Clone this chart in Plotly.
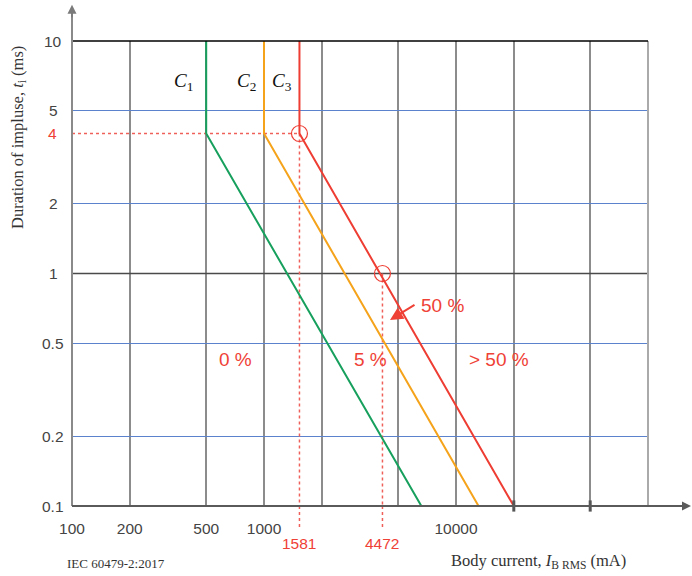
import numpy as np
import plotly.graph_objects as go

# ---------------- data ----------------
durations = [10, 4, 0.1]               # ms, shared by the three curves
c1_currents = [500, 500, 6600]         # mA
c2_currents = [1000, 1000, 13100]
c3_currents = [1530, 1530, 20000]

marker_currents = [1530, 4140]         # red circles
marker_durations = [4, 1]
marker_labels = ["1581", "4472"]

x_tickvals = [100, 200, 500, 1000, 2000, 5000, 10000, 20000, 50000, 100000]
x_ticktext = ["100", "200", "500", "1000", "", "", "10000", "", "", ""]
y_tickvals = [0.1, 0.2, 0.5, 1, 2, 5, 10]
y_ticktext = ["0.1", "0.2", "0.5", "1", "2", "5", "10"]
x_tickmarks = [20000, 50000]

zone_labels = ["0 %", "5 %", "> 50 %"]
zone_x = [711, 3606, 16750]
zone_y = [0.425, 0.425, 0.425]

curve_labels = ["<i>C</i><sub>1</sub>", "<i>C</i><sub>2</sub>", "<i>C</i><sub>3</sub>"]
curve_label_x = [383, 806, 1241]
curve_label_y = [6.66, 6.66, 6.66]

GREEN = "#17a05d"
ORANGE = "#f5a31a"
RED = "#ee3d33"
TXTRED = "#ef4136"
SANS = "Liberation Sans, Arial, sans-serif"
SERIF = "Liberation Serif, Times New Roman, serif"
PLOT_W = 576
PLOT_H = 465

fig = go.Figure()

# dark gridline at 1 ms
fig.add_trace(go.Scatter(x=[x_tickvals[0], x_tickvals[-1]], y=[1, 1], mode="lines",
                         line=dict(color="#4a4a4a", width=1.5), hoverinfo="skip", showlegend=False))

# dashed red guide lines
fig.add_trace(go.Scatter(x=[x_tickvals[0], marker_currents[0]], y=[marker_durations[0]] * 2, mode="lines",
                         line=dict(color="#f0605a", width=1.5, dash="3px,3px"), hoverinfo="skip", showlegend=False))
for mx, my in zip(marker_currents, marker_durations):
    fig.add_trace(go.Scatter(x=[mx, mx], y=[my, y_tickvals[0]], mode="lines",
                             line=dict(color="#f0605a", width=1.5, dash="3px,3px"), hoverinfo="skip", showlegend=False))
    fig.add_shape(type="line", xref="x", yref="paper", x0=mx, x1=mx, y0=-21 / PLOT_H, y1=0,
                  line=dict(color="#f0605a", width=1.5, dash="3px,3px"))

# curves
for cur, col in [(c1_currents, GREEN), (c2_currents, ORANGE), (c3_currents, RED)]:
    fig.add_trace(go.Scatter(x=cur, y=durations, mode="lines", line=dict(color=col, width=2),
                             hoverinfo="skip", showlegend=False))

# circles
fig.add_trace(go.Scatter(x=marker_currents, y=marker_durations, mode="markers",
                         marker=dict(symbol="circle-open", size=16, color=RED, line=dict(width=1.2, color=RED)),
                         hoverinfo="skip", showlegend=False))

# small tick marks on x axis
fig.add_trace(go.Scatter(x=x_tickmarks, y=[y_tickvals[0]] * len(x_tickmarks), mode="markers",
                         marker=dict(symbol="line-ns-open", size=8, color="#555555",
                                     line=dict(width=3, color="#555555")),
                         cliponaxis=False, hoverinfo="skip", showlegend=False))

# frame: right edge, top line, axes with arrows
fig.add_shape(type="line", xref="paper", yref="paper", x0=1, x1=1, y0=0, y1=1,
              line=dict(color="#aaaaaa", width=2))
fig.add_shape(type="line", xref="paper", yref="paper", x0=0, x1=1, y0=1, y1=1,
              line=dict(color="#000000", width=1.5))
fig.add_shape(type="line", xref="paper", yref="paper", x0=0, x1=0, y0=0, y1=1.07,
              line=dict(color="#8a8a8a", width=2))
fig.add_shape(type="line", xref="paper", yref="paper", x0=0, x1=1.07, y0=0, y1=0,
              line=dict(color="#5a5a5a", width=2))

annotations = []
annotations.append(dict(xref="paper", yref="paper", x=0, y=1.078, ax=0, ay=14, showarrow=True,
                        arrowhead=2, arrowsize=1.2, arrowwidth=1.5, arrowcolor="#7a7a7a", text=""))
annotations.append(dict(xref="paper", yref="paper", x=1.077, y=0, ax=-14, ay=0, showarrow=True,
                        arrowhead=2, arrowsize=1.2, arrowwidth=1.5, arrowcolor="#5a5a5a", text=""))

# y tick labels (centred, as in the reference)
for v, t in zip(y_tickvals, y_ticktext):
    annotations.append(dict(xref="paper", yref="y", x=-19 / PLOT_W, y=np.log10(v), xanchor="center",
                            yanchor="middle", showarrow=False, text=t,
                            font=dict(family=SANS, size=15.5, color="#444444")))
# red "4" y label
annotations.append(dict(xref="paper", yref="y", x=-20 / PLOT_W, y=np.log10(marker_durations[0]), xanchor="center",
                        yanchor="middle", showarrow=False, text="4", font=dict(family=SANS, size=15.5, color=TXTRED)))
# red x labels
for mx, lab in zip(marker_currents, marker_labels):
    annotations.append(dict(xref="x", yref="paper", x=np.log10(mx), y=0, xanchor="center", yanchor="middle",
                            yshift=-37, showarrow=False, text=lab, font=dict(family=SANS, size=15.5, color=TXTRED)))

# zone labels
for lab, zx, zy in zip(zone_labels, zone_x, zone_y):
    annotations.append(dict(xref="x", yref="y", x=np.log10(zx), y=np.log10(zy), showarrow=False,
                            text=lab, font=dict(family=SANS, size=19, color=TXTRED)))
# 50 % with arrow
annotations.append(dict(xref="x", yref="y", x=np.log10(8555), y=np.log10(0.732), showarrow=False,
                        text="50 %", font=dict(family=SANS, size=19, color=TXTRED)))
annotations.append(dict(xref="x", yref="y", x=np.log10(4532), y=np.log10(0.631), ax=26, ay=-16,
                        showarrow=True, arrowhead=2, arrowsize=1.3, arrowwidth=2, arrowcolor=TXTRED, text=""))

# curve labels
for lab, lx, ly in zip(curve_labels, curve_label_x, curve_label_y):
    annotations.append(dict(xref="x", yref="y", x=np.log10(lx), y=np.log10(ly), showarrow=False,
                            text=lab, font=dict(family=SERIF, size=19, color="#111111")))

# titles
annotations.append(dict(xref="paper", yref="paper", x=-54 / PLOT_W, y=(465 - 97) / PLOT_H, textangle=-90,
                        xanchor="center", yanchor="middle",
                        showarrow=False, text="Duration of impluse, <i>t</i><sub>i</sub> (ms)",
                        font=dict(family=SERIF, size=16.5, color="#333333")))
annotations.append(dict(xref="paper", yref="paper", x=(538 - 72) / PLOT_W, y=-55 / PLOT_H,
                        xanchor="center", yanchor="middle",
                        showarrow=False, text="Body current, <i>I</i><sub>B RMS</sub> (mA)",
                        font=dict(family=SERIF, size=16.5, color="#333333")))
annotations.append(dict(xref="paper", yref="paper", x=(65 - 72) / PLOT_W, y=-57 / PLOT_H,
                        xanchor="left", yanchor="middle",
                        showarrow=False, text="IEC 60479-2:2017",
                        font=dict(family=SERIF, size=13, color="#333333")))

fig.update_layout(
    width=692, height=576, autosize=False,
    margin=dict(l=72, r=44, t=41, b=70),
    paper_bgcolor="white", plot_bgcolor="white",
    annotations=annotations,
    xaxis=dict(type="log", range=[2, 5], tickvals=x_tickvals, ticktext=x_ticktext,
               showgrid=True, gridcolor="#8c8c8c", gridwidth=1.5, ticks="", showline=False, zeroline=False,
               tickfont=dict(family=SANS, size=15.5, color="#444444"), ticklabelstandoff=11),
    yaxis=dict(type="log", range=[-1, 1], tickvals=y_tickvals, ticktext=y_ticktext,
               showgrid=True, gridcolor="#5b82cc", gridwidth=1.2, ticks="", showline=False, zeroline=False,
               showticklabels=False),
)

fig.write_html("out.html", config={"displayModeBar": False},
               post_script="document.body.style.margin='0px';")
